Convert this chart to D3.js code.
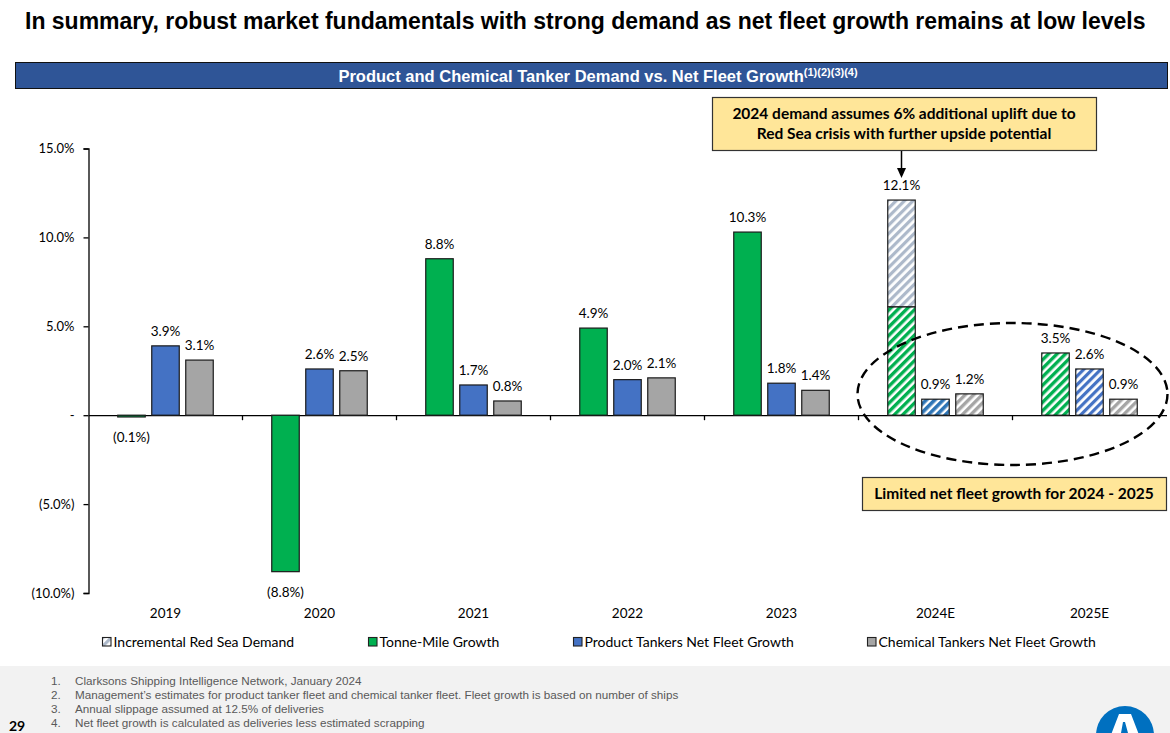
<!DOCTYPE html>
<html lang="en">
<head>
<meta charset="UTF-8">
<title>Product and Chemical Tanker Demand vs. Net Fleet Growth</title>
<script src="https://d3js.org/d3.v7.min.js"></script>
<style>
html, body { margin: 0; padding: 0; background: #fff; }
svg { display: block; }
.chart-text { font-family: 'Lato', 'Open Sans', sans-serif; font-size: 13px; fill: #000; }
.arial { font-family: 'Liberation Sans', Arial, sans-serif; }
</style>
</head>
<body>
<svg id="canvas"></svg>
<script>
// chart data
let categories = ['2019', '2020', '2021', '2022', '2023', '2024E', '2025E']
let tonneMile = [-0.1, -8.8, 8.8, 4.9, 10.3, 6.1, 3.5]
let redSea = [0, 0, 0, 0, 0, 6.0, 0]
let productFleet = [3.9, 2.6, 1.7, 2.0, 1.8, 0.9, 2.6]
let chemicalFleet = [3.1, 2.5, 0.8, 2.1, 1.4, 1.2, 0.9]
let estimated = ['2024E', '2025E']
let yTicks = [-10, -5, 0, 5, 10, 15]
let yTickLabels = ['(10.0%)', '(5.0%)', '-', '5.0%', '10.0%', '15.0%']
let legendLabels = ['Incremental Red Sea Demand', 'Tonne-Mile Growth', 'Product Tankers Net Fleet Growth', 'Chemical Tankers Net Fleet Growth']
let footnotes = [
    'Clarksons Shipping Intelligence Network, January 2024',
    'Management\u2019s estimates for product tanker fleet and chemical tanker fleet. Fleet growth is based on number of ships',
    'Annual slippage assumed at 12.5% of deliveries',
    'Net fleet growth is calculated as deliveries less estimated scrapping'
]

let width = 1170
let height = 733

let green = '#00B050'
let blue = '#4472C4'
let grey = '#A5A5A5'

let svg = d3.select('#canvas').attr('width', width).attr('height', height)

// hatch patterns for estimates
let defs = svg.append('defs')
let makeHatch = (id, bg, line, stripe) => {
    let p = defs.append('pattern')
        .attr('id', id)
        .attr('patternUnits', 'userSpaceOnUse')
        .attr('width', 6).attr('height', 6)
        .attr('patternTransform', 'rotate(45)')
    p.append('rect').attr('width', 6).attr('height', 6).attr('fill', bg)
    p.append('rect').attr('x', 0).attr('width', stripe).attr('height', 6).attr('fill', line)
}
makeHatch('hatch-green', '#ffffff', green, 3.4)
makeHatch('hatch-blue', '#ffffff', '#2E75B6', 3.6)
makeHatch('hatch-blue2', '#ffffff', blue, 3.2)
makeHatch('hatch-grey', '#ffffff', grey, 3.4)
makeHatch('hatch-redsea', '#ffffff', '#ADB9CA', 3.2)

// page title
svg.append('text')
    .attr('class', 'arial')
    .attr('x', 25).attr('y', 29)
    .style('font-size', '23px').style('font-weight', 'bold').attr('fill', '#000')
    .text('In summary, robust market fundamentals with strong demand as net fleet growth remains at low levels')

// header band
svg.append('rect')
    .attr('x', 15.5).attr('y', 62.5).attr('width', 1152).attr('height', 26)
    .attr('fill', '#2F5597').attr('stroke', '#111').attr('stroke-width', 1)
let head = svg.append('text')
    .attr('class', 'arial')
    .attr('x', 598).attr('y', 81.5)
    .attr('text-anchor', 'middle')
    .style('font-size', '16.5px').style('font-weight', 'bold').attr('fill', '#fff')
head.append('tspan').text('Product and Chemical Tanker Demand vs. Net Fleet Growth')
head.append('tspan').attr('dy', -6).style('font-size', '11px').text('(1)(2)(3)(4)')

// scales
let yScale = d3.scaleLinear().domain([-10, 15]).range([593, 148.5])
let xScale = d3.scaleBand().domain(categories).range([88.5, 1166.5]).padding(0)
let barW = 27.5
let step = 34

let isEst = (c) => estimated.includes(c)

// axes
let yAxis = d3.axisLeft(yScale)
    .tickValues(yTicks)
    .tickSize(5)
    .tickFormat((d, i) => yTickLabels[i])
let gy = svg.append('g')
    .attr('transform', 'translate(88.5, 0)')
    .call(yAxis)
gy.select('.domain').attr('stroke', '#000').attr('stroke-width', 1.3)
gy.selectAll('.tick line').attr('stroke', '#000').attr('stroke-width', 1.3)
gy.selectAll('.tick text').attr('class', 'chart-text').attr('x', -14)

let xAxis = d3.axisBottom(xScale).tickSize(0).tickSizeOuter(0).tickFormat('')
let gx = svg.append('g')
    .attr('transform', 'translate(0, ' + yScale(0) + ')')
    .call(xAxis)
gx.select('.domain').attr('stroke', '#000').attr('stroke-width', 1.3)
// tick marks between categories
gx.selectAll('.sep')
    .data(categories.slice(1))
    .enter()
    .append('line')
    .attr('x1', (d) => xScale(d)).attr('x2', (d) => xScale(d))
    .attr('y1', 0).attr('y2', 5)
    .attr('stroke', '#000').attr('stroke-width', 1.3)

// category labels
svg.selectAll('.cat')
    .data(categories)
    .enter()
    .append('text')
    .attr('class', 'chart-text')
    .attr('x', (d) => xScale(d) + xScale.bandwidth() / 2)
    .attr('y', 618)
    .attr('text-anchor', 'middle')
    .style('font-size', '13.5px')
    .text((d) => d)

let fmt = (v) => v < 0 ? '(' + Math.abs(v).toFixed(1) + '%)' : v.toFixed(1) + '%'

// bars
let series = [
    { values: tonneMile, offset: -step, fill: green, hatch: 'url(#hatch-green)' },
    { values: productFleet, offset: 0, fill: blue, hatch: null },
    { values: chemicalFleet, offset: step, fill: grey, hatch: 'url(#hatch-grey)' }
]
let blueHatch = { '2024E': 'url(#hatch-blue)', '2025E': 'url(#hatch-blue2)' }

let bars = svg.append('g')
let labels = svg.append('g')

series.forEach((s, si) => {
    let rows = categories.map((c, i) => ({ c: c, v: s.values[i], extra: si === 0 ? redSea[i] : 0 }))
    bars.selectAll('.b' + si)
        .data(rows)
        .enter()
        .append('rect')
        .attr('x', (d) => xScale(d.c) + xScale.bandwidth() / 2 + s.offset - barW / 2)
        .attr('y', (d) => yScale(Math.max(0, d.v)))
        .attr('width', barW)
        .attr('height', (d) => Math.abs(yScale(d.v) - yScale(0)))
        .attr('fill', (d) => {
            if (!isEst(d.c)) return s.fill
            return si === 1 ? blueHatch[d.c] : s.hatch
        })
        .attr('stroke', '#1a1a1a').attr('stroke-width', 1.2)

    // incremental red sea demand stacked on tonne-mile
    if (si === 0) {
        bars.selectAll('.rs')
            .data(rows.filter((d) => d.extra > 0))
            .enter()
            .append('rect')
            .attr('x', (d) => xScale(d.c) + xScale.bandwidth() / 2 + s.offset - barW / 2)
            .attr('y', (d) => yScale(d.v + d.extra))
            .attr('width', barW)
            .attr('height', (d) => yScale(d.v) - yScale(d.v + d.extra))
            .attr('fill', 'url(#hatch-redsea)')
            .attr('stroke', '#1a1a1a').attr('stroke-width', 1.2)
    }

    labels.selectAll('.l' + si)
        .data(rows)
        .enter()
        .append('text')
        .attr('class', 'chart-text')
        .attr('text-anchor', 'middle')
        .attr('x', (d) => xScale(d.c) + xScale.bandwidth() / 2 + s.offset)
        .attr('y', (d) => {
            let top = d.v + d.extra
            return top < 0 ? yScale(top) + 25 : yScale(top) - 10
        })
        .style('font-size', '13.5px')
        .text((d) => fmt(+(d.v + d.extra).toFixed(1)))
})

// dashed ellipse around 2024E-2025E
svg.append('ellipse')
    .attr('cx', xScale('2025E')).attr('cy', 394)
    .attr('rx', 155).attr('ry', 71)
    .attr('fill', 'none').attr('stroke', '#000')
    .attr('stroke-width', 2.4).attr('stroke-dasharray', '10,6')

// callouts
let callout = (x, y, w, h, lines) => {
    svg.append('rect')
        .attr('x', x + 0.5).attr('y', y + 0.5).attr('width', w).attr('height', h)
        .attr('fill', '#FFE699').attr('stroke', '#333').attr('stroke-width', 1.2)
    lines.forEach((t, i) => {
        svg.append('text')
            .attr('class', 'chart-text')
            .attr('x', x + w / 2).attr('y', y + (h - lines.length * 20) / 2 + 15.5 + i * 20)
            .attr('text-anchor', 'middle')
            .style('font-size', '15.5px').style('font-weight', 'bold')
            .text(t)
    })
}
callout(712, 97, 384, 53, ['2024 demand assumes 6% additional uplift due to', 'Red Sea crisis with further upside potential'])
callout(862, 477, 304, 33, ['Limited net fleet growth for 2024 - 2025'])

// arrow from callout to 2024E bar
let ax = xScale('2024E') + xScale.bandwidth() / 2 - step
svg.append('line')
    .attr('x1', ax).attr('x2', ax).attr('y1', 151).attr('y2', 170)
    .attr('stroke', '#000').attr('stroke-width', 1.5)
svg.append('path')
    .attr('d', 'M' + (ax - 4.5) + ',168 L' + (ax + 4.5) + ',168 L' + ax + ',178 Z')
    .attr('fill', '#000')

// legend
let legendX = [102, 368, 573, 867]
let legendFill = ['url(#hatch-redsea)', green, blue, grey]
let lg = svg.append('g')
legendLabels.forEach((t, i) => {
    lg.append('rect')
        .attr('x', legendX[i] + 0.5).attr('y', 637.5).attr('width', 8.5).attr('height', 8.5)
        .attr('fill', legendFill[i]).attr('stroke', '#222').attr('stroke-width', 1.1)
    lg.append('text')
        .attr('class', 'chart-text')
        .attr('x', legendX[i] + 11.5).attr('y', 647)
        .style('font-size', '14px')
        .text(t)
})

// footer
svg.append('rect').attr('x', 0).attr('y', 666).attr('width', width).attr('height', height - 666).attr('fill', '#F2F2F2')
footnotes.forEach((t, i) => {
    svg.append('text').attr('class', 'arial')
        .attr('x', 51).attr('y', 685 + i * 14)
        .style('font-size', '11.7px').attr('fill', '#595959')
        .text((i + 1) + '.')
    svg.append('text').attr('class', 'arial')
        .attr('x', 75).attr('y', 685 + i * 14)
        .style('font-size', '11.7px').attr('fill', '#595959')
        .text(t)
})
svg.append('text').attr('class', 'chart-text')
    .attr('x', 9).attr('y', 731)
    .style('font-size', '14px').style('font-weight', 'bold').attr('fill', '#1F3864')
    .text('29')

// logo
svg.append('circle').attr('cx', 1125).attr('cy', 735).attr('r', 29).attr('fill', '#0070C0')
svg.append('path')
    .attr('d', 'M1119,714 L1131,714 L1141,740 L1109,740 Z M1123,722 L1125,722 L1128,733 L1121,733 Z')
    .attr('fill', '#fff').attr('fill-rule', 'evenodd')
</script>
</body>
</html>
